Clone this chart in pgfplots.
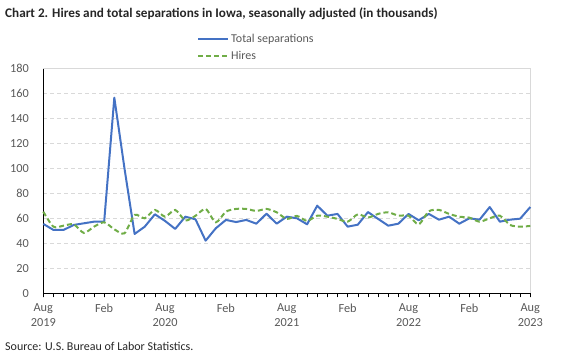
\documentclass[border=0pt]{standalone}
\usepackage{pgfplots}
\pgfplotsset{compat=1.18}
\usepackage{pgfplotstable}
\usepackage{fontspec}
\setmainfont{Carlito}
\definecolor{sepblue}{HTML}{4472C4}
\definecolor{hirgreen}{HTML}{70AD47}
\definecolor{txtgray}{HTML}{595959}
\definecolor{gridgray}{HTML}{D9D9D9}
\pgfplotstableread{
i sep hires
0 55.5 65.3
1 50.7 53.3
2 50.7 54.1
3 54.7 55.2
4 56.0 48.3
5 57.3 53.3
6 57.3 56.8
7 156.5 51.2
8 100.0 48.0
9 47.5 62.7
10 53.3 60.0
11 63.2 66.7
12 57.9 61.3
13 51.5 66.7
14 61.3 58.3
15 59.2 62.0
16 42.1 67.5
17 52.0 56.8
18 58.7 65.3
19 57.0 67.5
20 58.7 67.5
21 55.7 65.9
22 63.7 67.5
23 55.7 64.8
24 61.3 59.5
25 60.0 61.9
26 55.2 57.9
27 70.1 62.1
28 62.1 61.3
29 63.5 59.5
30 53.3 57.3
31 54.9 63.2
32 65.0 60.6
33 59.5 63.5
34 54.1 64.8
35 55.7 62.1
36 63.5 62.1
37 58.4 55.2
38 63.5 65.6
39 58.9 66.7
40 61.3 63.5
41 55.7 61.3
42 60.0 60.5
43 58.9 57.3
44 69.0 60.0
45 57.3 62.1
46 58.9 54.7
47 59.7 53.3
48 69.0 53.9
}\datatable
\begin{document}
\begin{tikzpicture}
\path[use as bounding box] (0pt,0pt) rectangle (563pt,357pt);
\node[anchor=base west,font=\fontsize{13.2}{15}\selectfont\bfseries,text=black!85,inner sep=0] at (5pt,339.5pt) {Chart 2. Hires and total separations in Iowa, seasonally adjusted (in thousands)};
\node[anchor=base west,font=\fontsize{12}{14}\selectfont,text=black!85,inner sep=0] at (5pt,7pt) {Source: U.S. Bureau of Labor Statistics.};
\begin{axis}[
  at={(43.3pt,63.7pt)}, anchor=origin,
  scale only axis, width=487pt, height=225pt,
  xmin=0, xmax=48, ymin=0, ymax=180,
  axis x line*=bottom, axis y line*=left,
  axis line style={black, line width=0.8pt},
  xtick={0,6,...,48},
  xticklabels={Aug\\2019,Feb,Aug\\2020,Feb,Aug\\2021,Feb,Aug\\2022,Feb,Aug\\2023},
  minor xtick={0,1,...,48},
  tick align=outside,
  major tick length=4pt, minor tick length=4pt,
  xtick style={black, line width=0.6pt},
  ytick={0,20,...,180},
  ytick style={draw=none},
  ymajorgrids,
  major grid style={gridgray, line width=0.75pt, dash pattern=on 4pt off 3pt},
  ticklabel style={font=\fontsize{12.3}{14.5}\selectfont, text=txtgray},
  xticklabel style={align=center, yshift=-3pt},
  yticklabel style={xshift=-7pt},
  /pgf/number format/assume math mode=true,
  legend style={at={(0.3156,1.16)}, anchor=north west, draw=none, fill=none,
    font=\fontsize{12}{14}\selectfont, text=txtgray, inner sep=0pt, row sep=3pt,
    /tikz/every even column/.append style={column sep=0pt}},
  legend cell align=left,
  legend image code/.code={\draw[#1] (0pt,0pt) -- (30pt,0pt);},
  clip=false,
]
\draw[gridgray, line width=0.8pt] (rel axis cs:0,1) -- (rel axis cs:1,1) -- (rel axis cs:1,0);
\addplot[sepblue, line width=2pt, line join=round] table[x=i,y=sep] {\datatable};
\addlegendentry{Total separations}
\addplot[hirgreen, line width=2pt, dash pattern=on 5pt off 3pt, smooth, tension=0.45] table[x=i,y=hires] {\datatable};
\addlegendentry{Hires}
\end{axis}
\end{tikzpicture}
\end{document}
